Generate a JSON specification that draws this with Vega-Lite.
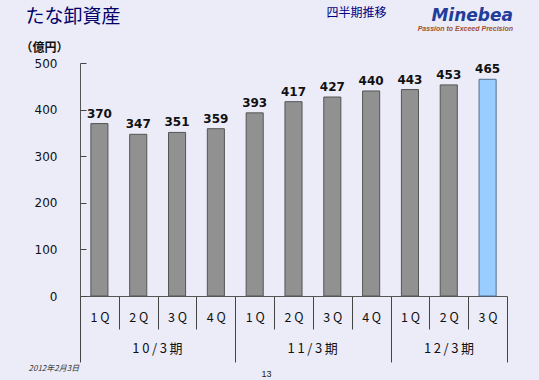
{
  "$schema": "https://vega.github.io/schema/vega-lite/v6.json",
  "width": 427,
  "height": 233,
  "autosize": "none",
  "padding": {"left": 80, "top": 63, "right": 32, "bottom": 84},
  "background": "#ececf9",
  "config": {"view": {"stroke": null}},
  "title": {
    "text": "Minebea",
    "subtitle": "Passion to Exceed Precision",
    "anchor": "end",
    "frame": "group",
    "dx": 6,
    "offset": -27,
    "font": "DejaVu Sans",
    "fontSize": 17,
    "fontWeight": "bold",
    "fontStyle": "italic",
    "color": "#1f3d99",
    "subtitleFont": "Liberation Sans",
    "subtitleFontSize": 7,
    "subtitleFontWeight": "bold",
    "subtitleFontStyle": "italic",
    "subtitleColor": "#a0522d",
    "subtitlePadding": 0
  },
  "data": {
    "values": [
      {"key": "10/3期|1Q", "value": 370, "hl": "no"},
      {"key": "10/3期|2Q", "value": 347, "hl": "no"},
      {"key": "10/3期|3Q", "value": 351, "hl": "no"},
      {"key": "10/3期|4Q", "value": 359, "hl": "no"},
      {"key": "11/3期|1Q", "value": 393, "hl": "no"},
      {"key": "11/3期|2Q", "value": 417, "hl": "no"},
      {"key": "11/3期|3Q", "value": 427, "hl": "no"},
      {"key": "11/3期|4Q", "value": 440, "hl": "no"},
      {"key": "12/3期|1Q", "value": 443, "hl": "no"},
      {"key": "12/3期|2Q", "value": 453, "hl": "no"},
      {"key": "12/3期|3Q", "value": 465, "hl": "yes"}
    ]
  },
  "resolve": {"axis": {"x": "independent", "y": "independent"}},
  "layer": [
    {
      "mark": {"type": "bar", "strokeWidth": 1, "width": {"band": 0.44}},
      "encoding": {
        "x": {
          "field": "key", "type": "nominal", "sort": null,
          "scale": {"paddingInner": 0, "paddingOuter": 0},
          "axis": {
            "orient": "bottom",
            "tickBand": "extent",
            "tickSize": {"condition": {"test": "!isValid(datum.value) || indexof(['10/3期|4Q','11/3期|4Q','12/3期|3Q'], datum.value) >= 0", "value": 66}, "value": 33},
            "tickColor": "#444",
            "domainColor": "#555",
            "labelAngle": 0,
            "labelExpr": "isValid(datum.value) ? replace(split(datum.value,'|')[1],'Q',' Q') : ''",
            "labelBaseline": "top",
            "labelPadding": {"condition": {"test": "indexof(['10/3期|4Q','11/3期|4Q','12/3期|3Q'], datum.value) >= 0", "value": -51}, "value": -18},
            "labelFont": "Noto Sans CJK JP",
            "labelFontSize": 12.5,
            "labelColor": "#111",
            "title": "2012年2月3日",
            "titleX": -52,
            "titleY": 72,
            "titleAlign": "left",
            "titleBaseline": "middle",
            "titleAngle": 0,
            "titleFont": "Noto Sans CJK JP",
            "titleFontSize": 8,
            "titleFontWeight": "normal",
            "titleFontStyle": "italic",
            "titleColor": "#333"
          }
        },
        "y": {
          "field": "value", "type": "quantitative",
          "scale": {"domain": [0, 500], "nice": false},
          "axis": {
            "orient": "left",
            "values": [0, 100, 200, 300, 400, 500],
            "grid": false,
            "tickSize": -6,
            "tickColor": "#444",
            "domainColor": "#555",
            "labelPadding": 29,
            "labelFont": "DejaVu Sans",
            "labelFontSize": 12,
            "labelColor": "#111",
            "title": "（億円）",
            "titleAngle": 0,
            "titleX": -60,
            "titleY": -16,
            "titleAlign": "left",
            "titleBaseline": "middle",
            "titleFont": "Noto Sans CJK JP",
            "titleFontSize": 12,
            "titleFontWeight": "bold",
            "titleColor": "#111"
          }
        },
        "color": {
          "field": "hl", "type": "nominal",
          "scale": {"domain": ["no", "yes"], "range": ["#919191", "#99ccff"]},
          "legend": null
        },
        "stroke": {
          "field": "hl", "type": "nominal",
          "scale": {"domain": ["no", "yes"], "range": ["#555555", "#4f6f8f"]},
          "legend": null
        }
      }
    },
    {
      "mark": {"type": "text", "baseline": "bottom", "dy": -3, "font": "DejaVu Sans", "fontSize": 12, "fontWeight": "bold", "color": "#111"},
      "encoding": {
        "x": {
          "field": "key", "type": "nominal", "sort": null,
          "axis": {
            "orient": "bottom",
            "values": ["10/3期|1Q", "11/3期|1Q", "12/3期|1Q"],
            "ticks": true,
            "tickSize": 66,
            "tickOpacity": 0,
            "domain": false,
            "labelAngle": 0,
            "labelExpr": "isValid(datum.value) ? join(split(split(datum.value,'|')[0],''),'\u2009') : ''",
            "labelOffset": {"condition": {"test": "datum.value == '12/3期|1Q'", "value": 39}, "value": 58},
            "labelBaseline": "top",
            "labelPadding": -20,
            "labelFont": "Noto Sans CJK JP",
            "labelFontSize": 13,
            "labelColor": "#111",
            "title": "13",
            "titleX": 186,
            "titleY": 77,
            "titleAlign": "center",
            "titleBaseline": "middle",
            "titleAngle": 0,
            "titleFont": "Liberation Sans",
            "titleFontSize": 9,
            "titleFontWeight": "normal",
            "titleColor": "#222"
          }
        },
        "y": {
          "field": "value", "type": "quantitative",
          "axis": {
            "orient": "right",
            "domain": false, "ticks": false, "labels": false, "grid": false,
            "title": "四半期推移",
            "titleAngle": 0,
            "titleX": -151,
            "titleY": -51,
            "titleAlign": "center",
            "titleBaseline": "middle",
            "titleFont": "Noto Sans CJK JP",
            "titleFontSize": 12,
            "titleFontWeight": "normal",
            "titleColor": "#000080"
          }
        },
        "text": {"field": "value", "type": "quantitative"}
      }
    },
    {
      "mark": {"type": "text", "opacity": 0},
      "encoding": {
        "x": {
          "field": "key", "type": "nominal", "sort": null,
          "axis": {
            "orient": "top",
            "domain": false, "ticks": false, "labels": false, "grid": false,
            "title": "たな卸資産",
            "titleX": -55,
            "titleY": -47,
            "titleAlign": "left",
            "titleBaseline": "middle",
            "titleAngle": 0,
            "titleFont": "Noto Sans CJK JP",
            "titleFontSize": 19,
            "titleFontWeight": "normal",
            "titleColor": "#000066"
          }
        },
        "text": {"value": ""}
      }
    }
  ]
}
